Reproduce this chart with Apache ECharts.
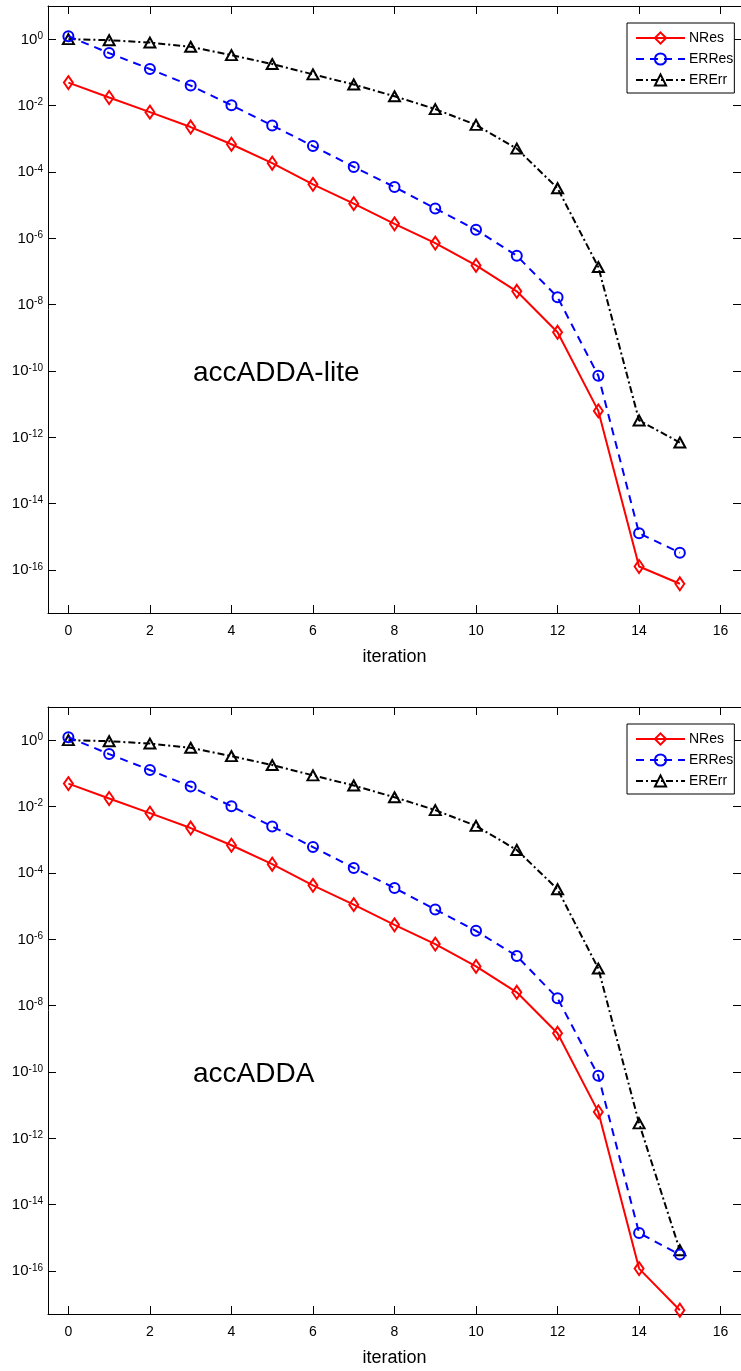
<!DOCTYPE html>
<html><head><meta charset="utf-8">
<script src="https://cdn.jsdelivr.net/npm/echarts@6/dist/echarts.min.js"></script>
<style>html,body{margin:0;padding:0;background:#fff}#c{width:741px;height:1371px}</style>
</head><body><div id="c"></div>
<script>
// ---- data ----
const iterations = [0,1,2,3,4,5,6,7,8,9,10,11,12,13,14,15];
const xTickValues = [0,2,4,6,8,10,12,14,16];
const yTickValues = [1,1e-2,1e-4,1e-6,1e-8,1e-10,1e-12,1e-14,1e-16];
const seriesNames = ['NRes','ERRes','ERErr'];
const panelTitles = ['accADDA-lite','accADDA'];
const xName = 'iteration';

// top panel (accADDA-lite)
const liteNRes  = [4.9e-2,1.74e-2,6.3e-3,2.24e-3,6.8e-4,1.82e-4,4.2e-5,1.1e-5,2.7e-6,7.1e-7,1.51e-7,2.5e-8,1.45e-9,6.2e-12,1.26e-16,3.8e-17];
const liteERRes = [1.23,3.8e-1,1.26e-1,3.98e-2,1.02e-2,2.5e-3,6.0e-4,1.41e-4,3.5e-5,7.9e-6,1.78e-6,2.95e-7,1.66e-8,7.1e-11,1.26e-15,3.3e-16];
const liteERErr = [1.0,0.93,0.79,0.59,0.33,0.178,8.7e-2,4.3e-2,1.9e-2,7.8e-3,2.6e-3,5.0e-4,3.2e-5,1.35e-7,3.2e-12,6.9e-13];

// bottom panel (accADDA)
const fullNRes  = [4.9e-2,1.74e-2,6.3e-3,2.24e-3,6.8e-4,1.82e-4,4.2e-5,1.1e-5,2.7e-6,7.1e-7,1.51e-7,2.5e-8,1.45e-9,6.2e-12,1.17e-16,6.5e-18];
const fullERRes = [1.23,3.8e-1,1.26e-1,3.98e-2,1.02e-2,2.5e-3,6.0e-4,1.41e-4,3.5e-5,7.9e-6,1.78e-6,3.1e-7,1.66e-8,7.6e-11,1.38e-15,3.1e-16];
const fullERErr = [1.0,0.93,0.79,0.59,0.33,0.178,8.7e-2,4.3e-2,1.9e-2,7.8e-3,2.6e-3,4.9e-4,3.2e-5,1.3e-7,2.8e-12,4.2e-16];

// ---- chart ----
const FONT = '"Liberation Sans", Arial, Helvetica, sans-serif';
const grids = [
  {left: 48, top: 6, width: 697, height: 607},
  {left: 48, top: 707, width: 697, height: 607}
];
const styles = [
  {color: '#ff0000', symbol: 'diamond', size: [9,13], type: 'solid', width: 2},
  {color: '#0000ff', symbol: 'circle', size: 10, type: [8,6], width: 2},
  {color: '#000000', symbol: 'triangle', size: [11,10], type: [7,3,2,3], width: 2}
];
const panelData = [[liteNRes, liteERRes, liteERErr],[fullNRes, fullERRes, fullERErr]];

const axisLineStyle = {show: true, lineStyle: {color: '#000', width: 1}};
const xAxes = [], yAxes = [], series = [], legends = [], graphics = [];
grids.forEach((g, gi) => {
  const xBase = {
    type: 'value', gridIndex: gi, min: -0.5, max: 16.5,
    axisLine: Object.assign({onZero: false}, axisLineStyle),
    axisTick: {show: true, inside: true, length: 8, customValues: xTickValues, lineStyle: {color: '#000'}},
    splitLine: {show: false}
  };
  xAxes.push(Object.assign({}, xBase, {
    position: 'bottom',
    axisLabel: {show: true, customValues: xTickValues, margin: 11, color: '#000', fontSize: 14, fontFamily: FONT},
    name: xName, nameLocation: 'middle', nameGap: 35,
    nameTextStyle: {color: '#000', fontSize: 18, fontFamily: FONT}
  }));
  xAxes.push(Object.assign({}, xBase, {position: 'top', axisLabel: {show: false}}));
  const yBase = {
    type: 'log', logBase: 10, gridIndex: gi, min: 5e-18, max: 10,
    axisLine: Object.assign({onZero: false}, axisLineStyle),
    axisTick: {show: true, inside: true, length: 8, customValues: yTickValues, lineStyle: {color: '#000'}},
    splitLine: {show: false}, minorTick: {show: false}
  };
  yAxes.push(Object.assign({}, yBase, {
    position: 'left',
    axisLabel: {
      show: true, customValues: yTickValues, margin: 5,
      formatter: v => '{b|10}{s|' + Math.round(Math.log10(v)) + '}',
      rich: {
        b: {fontSize: 15, lineHeight: 16, color: '#000', fontFamily: FONT, verticalAlign: 'bottom'},
        s: {fontSize: 10, lineHeight: 8, color: '#000', fontFamily: FONT, verticalAlign: 'top'}
      }
    }
  }));
  yAxes.push(Object.assign({}, yBase, {position: 'right', axisLabel: {show: false}}));

  seriesNames.forEach((name, si) => {
    const st = styles[si];
    series.push({
      name, type: 'line', xAxisIndex: gi * 2, yAxisIndex: gi * 2,
      data: iterations.map((x, i) => [x, panelData[gi][si][i]]),
      symbol: st.symbol, symbolSize: st.size, showAllSymbol: true,
      lineStyle: {color: st.color, width: st.width, type: st.type},
      itemStyle: {color: 'rgba(255,255,255,0)', borderColor: st.color, borderWidth: 2},
      emphasis: {disabled: true}, animation: false, z: 3 - si
    });
  });

  legends.push({
    data: seriesNames, orient: 'vertical', left: 627, top: g.top + 17,
    itemWidth: 49, itemHeight: 14, itemGap: 7,
    padding: [8, 1, 6, 8], borderColor: '#000', borderWidth: 1, backgroundColor: '#fff',
    textStyle: {color: '#000', fontSize: 14, fontFamily: FONT, padding: [0,0,0,-1]},
    selectedMode: false
  });

  graphics.push({
    type: 'text', left: 193, top: g.top + 353,
    style: {text: panelTitles[gi], fill: '#000', font: '28px ' + FONT}
  });
});

const chart = echarts.init(document.getElementById('c'), null, {renderer: 'canvas'});
chart.setOption({
  backgroundColor: '#fff',
  animation: false,
  grid: grids,
  xAxis: xAxes,
  yAxis: yAxes,
  legend: legends,
  series: series,
  graphic: graphics
});
</script>
</body></html>
